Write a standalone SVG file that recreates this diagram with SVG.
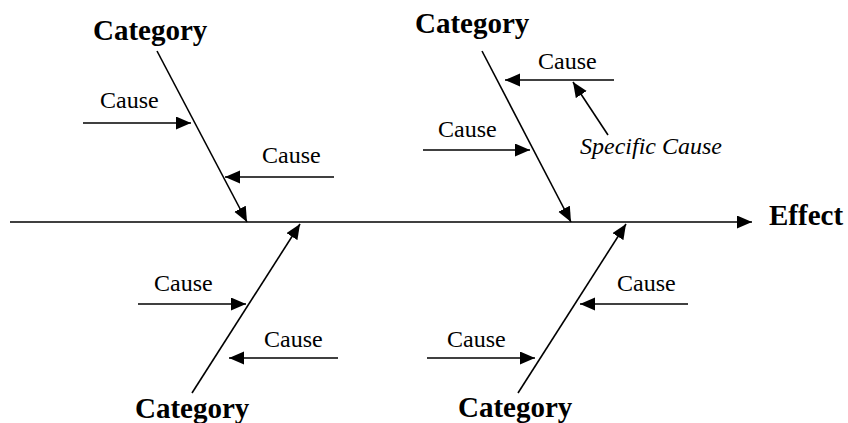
<svg xmlns="http://www.w3.org/2000/svg" width="848" height="423" viewBox="0 0 848 423">
  <style>
    .ln { stroke: #000; stroke-width: 1.6; fill: none; }
    .arr { marker-end: url(#head); }
    .cat { font-family: "Liberation Serif", "Times New Roman", serif; font-weight: bold; font-size: 29px; fill: #000; }
    .cause { font-family: "Liberation Serif", "Times New Roman", serif; font-size: 24px; fill: #000; }
    .spec { font-style: italic; }
  </style>
  <defs>
    <marker id="head" markerUnits="userSpaceOnUse" markerWidth="16" markerHeight="14" refX="15" refY="6.5" orient="auto">
      <path d="M0,0 L15,6.5 L0,13 z" fill="#000"/>
    </marker>
  </defs>
  <rect width="848" height="423" fill="#fff"/>

  <!-- spine and bones -->
  <g id="connectors">
    <line class="ln arr" x1="10" y1="222" x2="752" y2="222"/>
    <!-- category bones -->
    <line class="ln arr" x1="157" y1="51" x2="247" y2="222"/>
    <line class="ln arr" x1="482" y1="51" x2="571" y2="222"/>
    <line class="ln arr" x1="192" y1="393" x2="300" y2="224"/>
    <line class="ln arr" x1="518" y1="393" x2="626" y2="224"/>
    <!-- cause arrows -->
    <line class="ln arr" x1="83" y1="123" x2="191" y2="123"/>
    <line class="ln arr" x1="334" y1="177" x2="225" y2="177"/>
    <line class="ln arr" x1="614" y1="80" x2="505" y2="80"/>
    <line class="ln arr" x1="423" y1="150" x2="530" y2="150"/>
    <line class="ln arr" x1="608" y1="135" x2="573" y2="82"/>
    <line class="ln arr" x1="138" y1="304" x2="246" y2="304"/>
    <line class="ln arr" x1="338" y1="358" x2="229" y2="358"/>
    <line class="ln arr" x1="688" y1="304" x2="580" y2="304"/>
    <line class="ln arr" x1="427" y1="358" x2="535" y2="358"/>
  </g>

  <g id="effect"><text class="cat" x="769" y="225">Effect</text></g>

  <g id="category-top-left">
    <text class="cat" x="93" y="40">Category</text>
    <text class="cause" x="100" y="108">Cause</text>
    <text class="cause" x="262" y="163">Cause</text>
  </g>

  <g id="category-top-right">
    <text class="cat" x="415" y="33">Category</text>
    <text class="cause" x="538" y="69">Cause</text>
    <text class="cause" x="438" y="137">Cause</text>
    <text class="cause spec" x="580" y="154">Specific Cause</text>
  </g>

  <g id="category-bottom-left">
    <text class="cat" x="135" y="418">Category</text>
    <text class="cause" x="154" y="291">Cause</text>
    <text class="cause" x="264" y="347">Cause</text>
  </g>

  <g id="category-bottom-right">
    <text class="cat" x="458" y="417">Category</text>
    <text class="cause" x="617" y="291">Cause</text>
    <text class="cause" x="447" y="347">Cause</text>
  </g>
</svg>
